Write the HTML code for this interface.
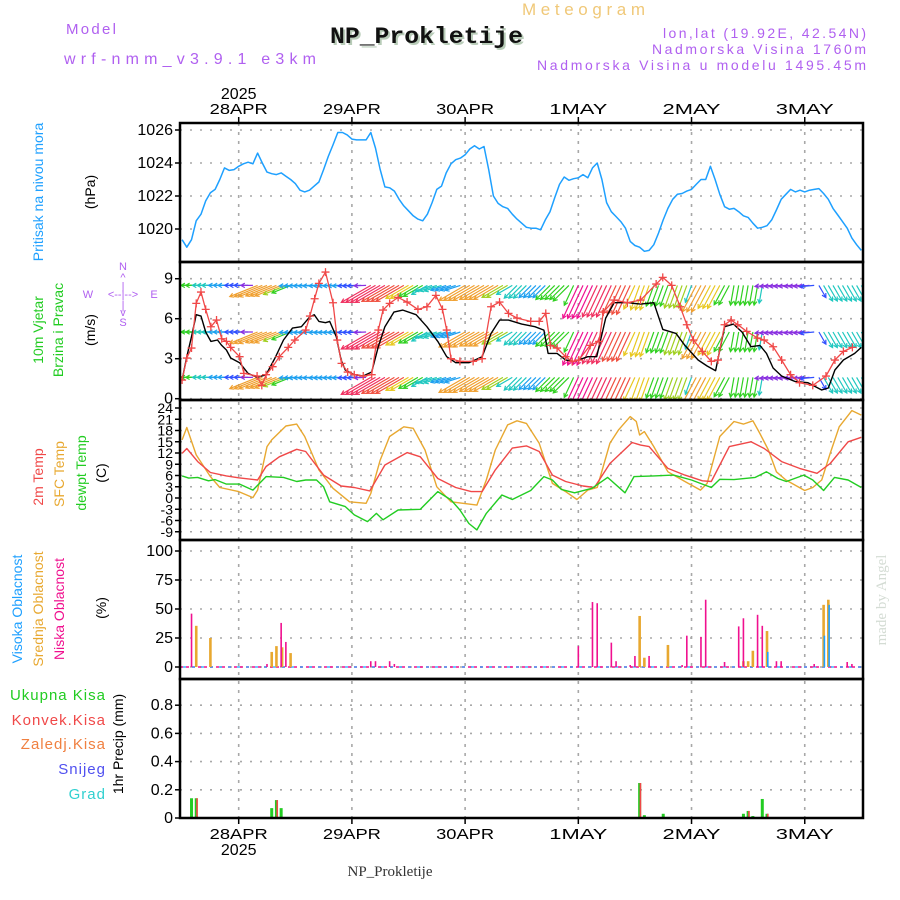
<!DOCTYPE html>
<html><head><meta charset="utf-8"><title>Meteogram NP_Prokletije</title>
<style>
html,body{margin:0;padding:0;background:#fff;}
svg{display:block;font-family:"Liberation Sans",sans-serif;}
</style></head>
<body>
<svg id="chart" width="900" height="900" viewBox="0 0 900 900" xmlns="http://www.w3.org/2000/svg">
<defs>
<clipPath id="cp1"><rect x="180" y="123" width="683" height="139"/></clipPath>
<clipPath id="cp2"><rect x="180" y="262" width="683" height="138"/></clipPath>
<clipPath id="cp3"><rect x="180" y="400" width="683" height="140"/></clipPath>
<clipPath id="cp4"><rect x="180" y="540" width="683" height="139"/></clipPath>
<clipPath id="cp5"><rect x="180" y="679" width="683" height="139"/></clipPath>
</defs>
<!-- header -->
<text x="66" y="34" font-size="15" fill="#b060f0" textLength="50" lengthAdjust="spacing">Model</text>
<text x="64" y="64" font-size="16" fill="#b060f0" textLength="252" lengthAdjust="spacing">wrf-nmm_v3.9.1 e3km</text>
<text x="522" y="15" font-size="17" fill="#f0c878" textLength="123" lengthAdjust="spacing">Meteogram</text>
<text x="332" y="45" font-size="23" font-weight="bold" font-family="Liberation Mono, monospace" fill="#b8ccb8" textLength="193" lengthAdjust="spacingAndGlyphs">NP_Prokletije</text>
<text x="330" y="43" font-size="23" font-weight="bold" font-family="Liberation Mono, monospace" fill="#111" textLength="193" lengthAdjust="spacingAndGlyphs">NP_Prokletije</text>
<text x="663" y="38" font-size="14" fill="#b060f0" textLength="203" lengthAdjust="spacing">lon,lat (19.92E, 42.54N)</text>
<text x="652" y="54" font-size="14" fill="#b060f0" textLength="214" lengthAdjust="spacing">Nadmorska Visina 1760m</text>
<text x="537" y="70" font-size="14" fill="#b060f0" textLength="329" lengthAdjust="spacing">Nadmorska Visina u modelu 1495.45m</text>
<!-- left labels -->
<g font-size="14">
<text transform="translate(43,192) rotate(-90)" text-anchor="middle" fill="#1ea0ff">Pritisak na nivou mora</text>
<text transform="translate(95,192) rotate(-90)" text-anchor="middle" fill="#000">(hPa)</text>
<text transform="translate(43,330) rotate(-90)" text-anchor="middle" fill="#22cc22">10m Vjetar</text>
<text transform="translate(63,330) rotate(-90)" text-anchor="middle" fill="#22cc22">Brzina i Pravac</text>
<text transform="translate(95,330) rotate(-90)" text-anchor="middle" fill="#000">(m/s)</text>
<text transform="translate(43,477) rotate(-90)" text-anchor="middle" fill="#f04848">2m Temp</text>
<text transform="translate(64,474) rotate(-90)" text-anchor="middle" fill="#e8a830">SFC Temp</text>
<text transform="translate(86,473) rotate(-90)" text-anchor="middle" fill="#22cc22">dewpt Temp</text>
<text transform="translate(106,473) rotate(-90)" text-anchor="middle" fill="#000">(C)</text>
<text transform="translate(22,609) rotate(-90)" text-anchor="middle" fill="#1ea0ff">Visoka Oblacnost</text>
<text transform="translate(43,609) rotate(-90)" text-anchor="middle" fill="#e8a830">Srednja Oblacnost</text>
<text transform="translate(64,609) rotate(-90)" text-anchor="middle" fill="#f0108f">Niska Oblacnost</text>
<text transform="translate(106,608) rotate(-90)" text-anchor="middle" fill="#000">(%)</text>
<text transform="translate(123,744) rotate(-90)" text-anchor="middle" fill="#000">1hr Precip (mm)</text>
</g>
<g font-size="15" text-anchor="end" letter-spacing="1">
<text x="106" y="700" fill="#22cc22">Ukupna  Kisa</text>
<text x="106" y="725" fill="#f04848">Konvek.Kisa</text>
<text x="106" y="749" fill="#f08040">Zaledj.Kisa</text>
<text x="106" y="774" fill="#5050f0">Snijeg</text>
<text x="106" y="799" fill="#30d0d0">Grad</text>
</g>
<g fill="#b060f0" font-size="11" text-anchor="middle">
<text x="123" y="270">N</text><text x="123" y="281">^</text><text x="123" y="290">|</text>
<text x="88" y="298">W</text><text x="123" y="298">&lt;--|--&gt;</text><text x="154" y="298">E</text>
<text x="123" y="309">|</text><text x="123" y="316">v</text><text x="123" y="326">S</text>
</g>
<text transform="translate(886,600) rotate(-90)" text-anchor="middle" font-size="15" font-family="Liberation Serif, serif" fill="#d4dcd4">made by Angel</text>
<text x="390" y="876" text-anchor="middle" font-size="15" font-family="Liberation Serif, serif" fill="#333">NP_Prokletije</text>
<g id="grid"></g>
<g id="marks"></g>
<g id="frames"></g>
</svg>
<script>
// ---------- data ----------
const dayLabels = ["28APR","29APR","30APR","1MAY","2MAY","3MAY"];
const dayHours = [0,24,48,72,96,120];
const yearLabel = "2025";
const pressureStartHour = -12;
const pressure = [1019.35,1018.9,1019.35,1020.5,1020.9,1021.7,1022.2,1022.4,1023.0,1023.7,1023.55,1023.6,
1023.8,1023.95,1024.05,1023.95,1024.6,1024.0,1023.45,1023.35,1023.3,1023.4,1023.2,1023.0,
1022.75,1022.35,1022.25,1022.35,1022.6,1022.85,1023.6,1024.4,1025.1,1025.85,1025.85,1025.7,
1025.45,1025.4,1025.4,1025.4,1025.85,1024.9,1023.6,1022.55,1022.5,1022.3,1021.8,1021.4,
1021.1,1020.8,1020.6,1020.5,1020.9,1021.6,1022.4,1022.6,1023.4,1023.95,1024.2,1024.3,
1024.5,1024.85,1025.05,1024.85,1025.0,1023.6,1022.0,1021.55,1021.35,1021.25,1020.9,1020.6,
1020.35,1020.1,1020.05,1020.05,1019.95,1020.55,1021.05,1021.9,1022.7,1023.15,1022.95,1023.05,
1023.1,1023.3,1023.1,1023.7,1024.0,1023.0,1021.6,1021.05,1020.75,1020.45,1020.05,1019.25,
1019.0,1018.9,1018.65,1018.7,1019.05,1019.75,1020.55,1021.25,1021.8,1022.1,1022.15,1022.3,
1022.4,1022.7,1023.0,1023.0,1023.8,1023.0,1022.1,1021.35,1021.2,1021.25,1021.05,1020.8,
1020.7,1020.35,1020.05,1020.1,1020.2,1020.55,1021.15,1021.8,1022.1,1022.4,1022.25,1022.35,
1022.25,1022.35,1022.4,1022.45,1022.15,1021.8,1021.25,1020.85,1020.45,1020.05,1019.45,1019.05,
1018.7];
const pressureTicks = [1020,1022,1024,1026];

const windHours = [-12,-11,-10,-9,-8,-7,-5.9,-4.5,-3.6,-2.6,-1.7,0.2,2,3.9,5.8,7.7,9.5,11.4,13.3,15.1,16,17,18.4,19.3,20.7,21.7,22.6,24.5,26.4,28.2,29.6,31,32.9,34.8,37.6,39.9,42.2,44.1,46,48.8,51.6,53.5,55.3,57.2,60,62.8,64.7,65.6,67.5,69.3,71.2,74,75.9,77.8,79.6,82.4,85.2,88,89.9,92.7,94.6,97.4,99.3,101.1,103,104.9,106.7,108.6,110.5,111.9,113.3,115.1,117.9,120.7,123.6,125,126.4,128.2,130.6,132];
const windSpeed = [1.4,3.15,4.65,6.3,6.2,5.0,4.3,4.4,4.0,3.65,3.05,2.7,1.9,1.6,1.8,3.05,4.4,5.3,5.4,6.15,6.3,5.8,5.7,5.8,4.65,2.9,2.15,1.8,1.7,2.0,3.9,5.4,6.5,6.65,6.3,5.4,4.3,3.15,2.7,2.7,3.15,4.9,5.9,5.9,5.6,5.4,5.15,3.4,3.4,2.9,2.8,3.15,3.15,6.05,7.2,7.2,7.1,7.2,5.2,4.9,4.0,2.9,2.45,2.1,5.4,5.6,5.0,3.9,4.0,3.4,2.3,1.7,1.3,1.2,0.65,0.8,2.15,2.9,3.4,3.85];
const gustHours = [-12,-11,-10,-9,-8,-7,-5.9,-4.7,-3.6,-2.6,-1.7,0.2,1.1,3.9,4.9,5.8,7.2,8.6,10.5,11.9,14.2,15.1,16.1,17,18.4,20,20.9,21.8,23.1,24.5,26.4,28.2,29.6,30.6,32,33.8,35.7,38,39.9,41.8,43.2,44.1,45,46.9,49.7,51.6,53.5,55.3,57.2,59,61.9,63.7,65.1,66.1,67.5,69.3,70.7,72.1,74.5,76.4,77.3,79.6,82.4,85.2,88.5,89.9,91.8,93.6,95,96.4,98.3,100.2,101.6,103,104.4,105.8,107.7,110,111.4,113.3,115.1,117,118.9,121.7,124.5,126.4,128.2,130.1];
const gustSpeed = [1.4,3.05,3.8,7.15,8.0,6.7,5.4,5.9,4.5,4.3,3.85,3.15,1.9,1.7,1.0,1.8,2.4,3.15,3.85,4.4,5.15,6.2,7.5,8.65,9.5,7.2,4.4,2.65,2.0,1.8,1.7,1.8,5.15,6.65,7.15,7.6,7.25,6.7,6.9,7.75,6.7,5.15,3.0,2.8,2.8,3.0,6.9,7.25,6.4,6.05,5.8,5.8,6.4,4.0,3.8,3.15,2.8,2.9,4.0,4.3,6.5,7.4,7.2,7.4,8.6,9.1,8.5,6.9,5.55,4.4,3.55,2.8,2.9,5.55,5.9,5.55,5.05,4.55,4.4,3.9,2.9,1.8,1.2,1.0,1.7,2.9,3.55,3.85];
const windTicks = [0,3,6,9];
const vecDirHours = [-12,4,12,28,41,48,59,71,85,97,105,112,123];
const vecDirs = [90,68,88,60,72,60,45,25,20,28,10,85,330];
const vecSpdHours = [-12,-9,-6,-3,0,3,4,7,10,11,12,18,24,27,28,32,36,38,40,44,48,52,56,58,62,66,70,72,76,80,84,88,92,96,97,100,103,105,111,112,118,122,124];
const vecSpds = [3,3.5,3,2.5,2,1.5,6,5.5,4.5,3.5,2.5,2.2,2,1.5,7,6.5,5,4,3,2.5,6,5.5,4.5,3,2.8,3.5,4,7.6,7.2,6.5,5,4,4.5,3,6,5,4,3.5,3,1.5,1.3,2,3];
const vecRows = [8.5,5.0,1.6];

const t2Hours = [-12,-11,-8.7,-6,-2.6,0,4,5.8,8.6,12.3,14.2,18,21.7,24.5,27.8,31,35.7,38.5,42.2,46,49.3,51.6,54.4,58,61,63.7,66.5,69.3,73,75.4,78.7,83.4,85.2,87,91,94.6,98.3,100.2,104,108.6,111.4,115.1,118.9,122.6,125.4,129.2,132];
const t2 = [11.9,13.2,9.7,6.8,5.9,5.4,4.8,8.4,11,13,12.4,6.1,3.2,2.8,1.9,8.8,12.1,11,5.2,2.8,1.7,1.7,7.5,13.3,13.9,12.4,6.1,4.4,3.2,2.8,9.2,14.8,14.1,13.7,7.9,6.1,4.6,4.4,13.7,15,13.2,9.7,7.9,6.6,9.2,15,16.2];
const sfcHours = [-12,-11,-9,-6,-4,0,3,4,6,7,10,12.3,14,17,20,23.5,27,28,30,32,35,37,39.5,42,45,50.5,52.5,54.4,57,59,61,63.7,66.5,69.3,71.7,74,76,78.7,80.5,83,84.3,85,86,88,91,94.6,97.9,99.3,102,105,107,109,110.5,112.3,114,116,120,121.7,123.6,125.4,127.3,130,132];
const sfc = [15.5,18.8,11.5,5.7,2.8,1.7,0.1,2.1,13.7,15.5,19.2,19.7,16.4,7.5,2.6,-1.0,-1.4,1.2,10.1,16.4,19,18.6,12.8,3,-1.0,-1.9,4.8,12.8,19.5,20.6,19.9,14.6,3.9,1.7,-0.4,2.1,2.8,14.6,18.1,21.7,20.4,16.8,17.7,13.7,7,4.4,2.1,3.9,16.4,20.4,19.7,20.6,17.2,12.8,7,4.8,2.0,2.8,4.8,11.9,19,23.3,22.1];
const dewHours = [-12,-10.6,-8.7,-6.4,-5,-2.6,0.2,3,5.8,9.5,12.3,14.2,16.5,18,19.3,22.6,24.5,27.3,29.2,30.6,33.8,38.5,42.2,45,46.9,48.8,50.5,52.5,55.8,58,61.9,64.7,66.5,68.4,71.2,74.9,78.2,81.9,83.8,88,92.2,96,100.2,102,105,109.5,111.9,114.3,116.1,119.8,121.7,124,126.3,129.2,132];
const dew = [5.9,5.3,5.5,4.6,4.9,3.7,3.7,2.1,5.7,5.5,4.4,4.8,4.8,3.0,-1.0,-2.3,-4.5,-6.3,-4.1,-5.8,-3.2,-3,1.7,-0.5,-3.2,-6.8,-8.5,-4.1,0.8,-0.4,2,5.7,4.8,2.3,1.4,2.6,5.5,1.4,5.7,5.9,6.1,4.8,2.8,5,4.9,5.5,7,5.2,4.4,6.1,4.8,2,5.5,4.8,2.8];
const tempTicks = [-9,-6,-3,0,3,6,9,12,15,18,21,24];

const lowCloudHours = [-10,6,9,10,28,29,32,33,72,75,76,79,80,83,84,87,94,95,98,99,103,106,107,110,111,114,115,122,129,130];
const lowCloud = [46,2.6,38,21.6,5,5,5,2.6,18,56,55,21,5,1.7,9.5,9.5,1.7,27,26,58,4.3,35,42,45,35.5,5,5,2.6,4.3,2.6];
const midCloudHours = [-9,-6,7,8,9.2,11,85,86,91,107,108,109,112,124,125];
const midCloud = [35.5,25,13,18,17,12,44,8,19,5,5,14,31,53.6,58];
const highCloudHours = [112,124,125];
const highCloud = [13,27,53.6];
const cloudTicks = [0,25,50,75,100];

const totalPrecipHours = [-10,-9,7,8,9,85,86,90,107,108,109,111,112];
const totalPrecip = [0.14,0.14,0.07,0.127,0.07,0.248,0.02,0.03,0.03,0.05,0.014,0.135,0.03];
const convPrecipHours = [-9,8,11,85,108,112,132];
const convPrecip = [0.14,0.127,0.005,0.248,0.05,0.03,0.01];
const precipTicks = [0,0.2,0.4,0.6,0.8];

// ---------- scales ----------
const X0 = 180, X1 = 863;
const xOf = h => 238.7 + h * 4.717;
const yP = v => 130 + (1026 - v) * 16.5;
const yW = v => 398.7 - v * 13.33;
const yT = v => 498 - v * 3.75;
const yC = v => 667 - v * 1.16;
const yR = v => 818 - v * 141;
const panels = [[123,262,'cp1'],[262,400,'cp2'],[400,540,'cp3'],[540,679,'cp4'],[679,818,'cp5']];

const NS = 'http://www.w3.org/2000/svg';
function mk(tag, attrs, parent) {
  const e = document.createElementNS(NS, tag);
  for (const k in attrs) e.setAttribute(k, attrs[k]);
  parent.appendChild(e);
  return e;
}
const grid = document.getElementById('grid');
const marks = document.getElementById('marks');
const frames = document.getElementById('frames');

function hgrid(vals, yf, fmt, fs, nm) {
  vals.forEach(v => {
    const y = yf(v);
    const ln = mk('line', {x1: X0, x2: X1, y1: y, y2: y, stroke: '#a8a8a8', 'stroke-width': 1.6, 'stroke-dasharray': '2,8'}, grid);
    
    
    mk('line', {x1: X0 - 5, x2: X0, y1: y, y2: y, stroke: '#000', 'stroke-width': 1.5}, grid);
    const t = mk('text', {x: 173, y: y + 5, 'text-anchor': 'end', 'font-size': fs, fill: '#000'}, grid);
    t.textContent = fmt(v);
    
    
  });
}
hgrid(pressureTicks, yP, v => v, 16, 'pressure');
hgrid(windTicks, yW, v => v, 16, 'wind');
hgrid(tempTicks, yT, v => v, 14, 'temp');
hgrid(cloudTicks, yC, v => v, 16, 'cloud');
hgrid(precipTicks, yR, v => v === 0 ? '0' : v.toFixed(1), 16, 'precip');

dayHours.forEach((h, i) => {
  const x = xOf(h);
  const vl = mk('line', {x1: x, x2: x, y1: 123, y2: 818, stroke: '#a8a8a8', 'stroke-width': 1.6, 'stroke-dasharray': '3,6'}, grid);
  
  
  mk('line', {x1: x, x2: x, y1: 117, y2: 123, stroke: '#000', 'stroke-width': 1.5}, grid);
  mk('line', {x1: x, x2: x, y1: 818, y2: 824, stroke: '#000', 'stroke-width': 1.5}, grid);
  const t = mk('text', {x: x, y: 114, 'text-anchor': 'middle', 'font-size': 15, fill: '#000', textLength: 58, lengthAdjust: 'spacingAndGlyphs'}, grid);
  t.textContent = dayLabels[i];
  
  
  const b = mk('text', {x: x, y: 839, 'text-anchor': 'middle', 'font-size': 15, fill: '#000', textLength: 58, lengthAdjust: 'spacingAndGlyphs'}, grid);
  b.textContent = dayLabels[i];
  
  
});
{
  const t = mk('text', {x: xOf(0), y: 99, 'text-anchor': 'middle', 'font-size': 16, fill: '#000'}, grid);
  t.textContent = yearLabel;
  
  
  const b = mk('text', {x: xOf(0), y: 855, 'text-anchor': 'middle', 'font-size': 16, fill: '#000'}, grid);
  b.textContent = yearLabel;
  
  
}

function line(hours, vals, yf, color, w, clip, nm) {
  const pts = vals.map((v, i) => xOf(hours[i]).toFixed(1) + ',' + yf(v).toFixed(1)).join(' ');
  const p = mk('polyline', {points: pts, fill: 'none', stroke: color, 'stroke-width': w, 'clip-path': 'url(#' + clip + ')', 'stroke-linejoin': 'round'}, marks);
  
  
  return p;
}
const pHours = pressure.map((v, i) => pressureStartHour + i);
line(pHours, pressure, yP, '#1ea0ff', 1.5, 'cp1', 'pressure-line');

function stepVal(hs, vs, h) { let r = vs[0]; for (let i = 0; i < hs.length; i++) if (hs[i] <= h) r = vs[i]; return r; }
function spdColor(s) {
  if (s < 1.6) return '#8a30e0';
  if (s < 2.1) return '#3050ff';
  if (s < 2.9) return '#1ea0f0';
  if (s < 3.3) return '#20c8c0';
  if (s < 4.2) return '#30d020';
  if (s < 4.8) return '#a0d020';
  if (s < 5.3) return '#e8c820';
  if (s < 6.2) return '#f0a030';
  if (s < 7.0) return '#f05040';
  if (s < 7.4) return '#f03060';
  return '#f0108f';
}
const vg = mk('g', {'clip-path': 'url(#cp2)'}, marks);


vecRows.forEach(row => {
  for (let h = -12; h <= 132; h++) {
    const d = stepVal(vecDirHours, vecDirs, h);
    const s = stepVal(vecSpdHours, vecSpds, h);
    const L = 6 + s * 4;
    const to = (d + 180) * Math.PI / 180;
    const x = xOf(h), y = yW(row);
    const ux = Math.sin(to), uy = -Math.cos(to);
    const tx = x + ux * L, ty = y + uy * L;
    const c = spdColor(s);
    const a1 = Math.atan2(uy, ux);
    const hx1 = tx - 4.5 * Math.cos(a1 - 0.5), hy1 = ty - 4.5 * Math.sin(a1 - 0.5);
    const hx2 = tx - 4.5 * Math.cos(a1 + 0.5), hy2 = ty - 4.5 * Math.sin(a1 + 0.5);
    const p = mk('path', {d: `M${x.toFixed(1)},${y.toFixed(1)}L${tx.toFixed(1)},${ty.toFixed(1)}M${hx1.toFixed(1)},${hy1.toFixed(1)}L${tx.toFixed(1)},${ty.toFixed(1)}L${hx2.toFixed(1)},${hy2.toFixed(1)}`, stroke: c, 'stroke-width': 1.2, fill: 'none'}, vg);
    
    
  }
});
line(windHours, windSpeed, yW, '#000', 1.4, 'cp2', 'wind-speed-line');
line(gustHours, gustSpeed, yW, '#f04848', 1.3, 'cp2', 'wind-gust-line');
gustHours.forEach((h, i) => {
  const x = xOf(h), y = yW(gustSpeed[i]);
  const p = mk('path', {d: `M${x - 4},${y}H${x + 4}M${x},${y - 4}V${y + 4}`, stroke: '#f04848', 'stroke-width': 1.3, 'clip-path': 'url(#cp2)'}, marks);
  
  
});

line(sfcHours, sfc, yT, '#e8a830', 1.4, 'cp3', 'sfc-temp-line');
line(t2Hours, t2, yT, '#f04848', 1.4, 'cp3', 'temp-2m-line');
line(dewHours, dew, yT, '#22cc22', 1.4, 'cp3', 'dewpoint-line');

mk('line', {x1: X0, x2: X1, y1: 667, y2: 667, stroke: '#f0108f', 'stroke-width': 1.5, 'stroke-dasharray': '3,3'}, marks);
mk('line', {x1: X0 + 3, x2: X1, y1: 667, y2: 667, stroke: '#1ea0ff', 'stroke-width': 1.2, 'stroke-dasharray': '3,6'}, marks);
function bars(hours, vals, yf, base, color, w, dx, clip, nm) {
  hours.forEach((h, i) => {
    const x = xOf(h) + dx, y = yf(vals[i]);
    const r = mk('rect', {x: x - w / 2, y: y, width: w, height: Math.max(0, base - y), fill: color, 'clip-path': 'url(#' + clip + ')'}, marks);
    
    
  });
}
bars(midCloudHours, midCloud, yC, 667, '#e8a830', 2.6, 0, 'cp4', 'mid-cloud-bar');
bars(lowCloudHours, lowCloud, yC, 667, '#f0108f', 1.6, 0, 'cp4', 'low-cloud-bar');
bars(highCloudHours, highCloud, yC, 667, '#1ea0ff', 1.6, 0.8, 'cp4', 'high-cloud-bar');

bars(totalPrecipHours, totalPrecip, yR, 818, '#22cc22', 3, 0, 'cp5', 'total-precip-bar');
bars(convPrecipHours, convPrecip, yR, 818, '#f04848', 1.6, 0.8, 'cp5', 'conv-precip-bar');

panels.forEach(([t, b], i) => {
  const r = mk('rect', {x: X0, y: t, width: X1 - X0, height: b - t, fill: 'none', stroke: '#000', 'stroke-width': 2.5}, frames);
  
  
});
</script>
</body></html>
